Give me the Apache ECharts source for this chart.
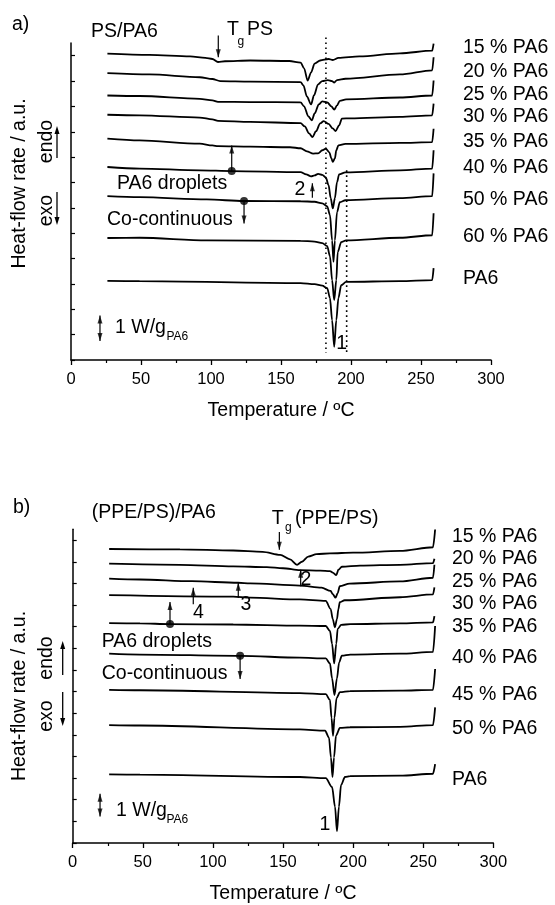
<!DOCTYPE html>
<html><head><meta charset="utf-8">
<script src="https://cdn.jsdelivr.net/npm/echarts@6/dist/echarts.min.js"></script>
<style>html,body{margin:0;padding:0;background:#fff}#c{width:555px;height:905px}</style>
</head><body><div id="c"></div>
<script>
// ---------- data ----------
const xTicks = [0, 50, 100, 150, 200, 250, 300];
const aYTicks = [0,1,2,3,4,5,6,7,8,9,10,11,12];
const bYTicks = [0,1,2,3,4,5,6,7,8,9,10,11,12,13,14];
const aNames = ['15 % PA6','20 % PA6','25 % PA6','30 % PA6','35 % PA6','40 % PA6','50 % PA6','60 % PA6','PA6'];
const bNames = ['15 % PA6','20 % PA6','25 % PA6','30 % PA6','35 % PA6','40 % PA6','45 % PA6','50 % PA6','PA6'];

// panel a) PS/PA6 : [temperature °C, heat flow (a.u., W/g offset)]
const a15 = [[26,12.08],[56,12.03],[85,11.97],[96,11.91],[101,11.87],[105,11.75],[110,11.78],[128,11.81],[156,11.79],[164,11.73],[166.5,11.50],[169,11.02],[171.5,11.34],[174,11.69],[178,11.81],[184,11.87],[187,11.83],[191,11.91],[206,11.97],[235,12.09],[258,12.20],[259,12.48]];
const a20 = [[26,11.31],[56,11.26],[92,11.15],[101,11.08],[106.5,11.0],[128,10.98],[164,10.96],[166,10.83],[168.5,10.39],[171.5,10.08],[173.5,10.43],[176.5,10.87],[179.5,11.0],[183.5,11.04],[186.5,11.0],[188,10.94],[190,11.04],[196,11.09],[235,11.26],[258,11.42],[259,11.94]];
const a25 = [[26,10.43],[49,10.41],[92,10.30],[101,10.24],[105,10.18],[128,10.17],[164,10.16],[166.5,10.0],[169.5,9.61],[172,9.45],[174,9.72],[177,10.08],[179.5,10.20],[183,10.16],[186,10.0],[188,9.87],[190,10.04],[192,10.22],[196.5,10.28],[235,10.35],[258,10.43],[259,11.02]];
const a30 = [[26,9.67],[49,9.65],[92,9.56],[101,9.49],[105,9.43],[128,9.39],[164,9.34],[167,9.21],[170,8.94],[172.5,8.79],[175,9.02],[178,9.33],[180.5,9.42],[184,9.31],[187,9.13],[189,9.03],[191.5,9.25],[193.5,9.52],[199.5,9.53],[235,9.59],[258,9.65],[259,10.11]];
const a35 = [[26,8.73],[49,8.66],[92,8.53],[101,8.46],[105,8.43],[128,8.41],[156.5,8.39],[164,8.35],[168.5,8.23],[173,8.14],[176.5,8.15],[179.5,8.27],[182,8.33],[184.5,8.19],[186,7.95],[187,7.81],[188.5,7.95],[189.5,8.27],[191,8.46],[196,8.52],[235,8.56],[258,8.59],[259,9.12]];
const a40 = [[26,7.61],[49,7.55],[92,7.48],[115,7.45],[164,7.41],[168,7.32],[171.5,7.24],[174,7.28],[176.5,7.34],[179.5,7.30],[182,7.20],[184,6.89],[185.5,6.38],[187,5.98],[188.5,6.38],[190,7.01],[191.5,7.32],[196,7.40],[235,7.48],[258,7.55],[259,8.27]];
const a50 = [[26,6.46],[49,6.42],[97,6.33],[123.5,6.27],[164,6.26],[174,6.24],[179.5,6.18],[183,6.06],[185,5.71],[186.5,4.72],[187.5,3.87],[188.5,4.72],[190,5.83],[192,6.22],[196,6.30],[235,6.38],[258,6.46],[259,7.36]];
const a60 = [[26,4.81],[49,4.82],[97,4.72],[164,4.70],[174,4.67],[179.5,4.61],[183,4.49],[185,4.09],[186.5,3.15],[188,2.36],[189.5,3.15],[190.5,4.25],[193,4.65],[196.5,4.72],[235,4.82],[258,4.92],[259,5.79]];
const aPA6 = [[26,3.12],[49,3.11],[164,3.03],[174,2.99],[179.5,2.93],[183,2.83],[185,2.44],[186.5,1.57],[188,0.52],[189.5,1.57],[191,2.44],[193,2.95],[196.5,3.08],[235,3.11],[258,3.15],[259,3.62]];

// panel b) (PPE/PS)/PA6
const b15 = [[26,13.59],[76.5,13.57],[114.5,13.52],[135.5,13.46],[148,13.32],[155,13.11],[160,12.86],[163.5,13.0],[168,13.24],[174,13.35],[183.5,13.39],[200,13.42],[233.5,13.5],[257,13.67],[258.5,14.49]];
const b20 = [[26,12.91],[76.5,12.86],[114.5,12.79],[138.5,12.75],[150,12.70],[162,12.61],[176.5,12.59],[183.5,12.57],[185.5,12.50],[188,12.38],[189.5,12.63],[192,12.77],[205,12.82],[233.5,12.86],[257,12.94],[258,13.14]];
const b25 = [[26,12.22],[48,12.18],[85,12.10],[118,12.03],[126.5,12.0],[162,11.90],[177.5,11.80],[184,11.65],[185.5,11.50],[187.5,11.34],[189,11.55],[190.5,11.87],[197.5,11.99],[233.5,12.09],[257,12.26],[258,12.86]];
const b30 = [[26,11.46],[114.5,11.39],[126.5,11.34],[162,11.26],[180.5,11.19],[184,10.81],[185.5,10.35],[187,9.97],[188.5,10.35],[189.5,10.81],[190.5,11.13],[194,11.22],[233.5,11.36],[257,11.49],[258,11.81]];
const b35 = [[26,10.16],[48,10.15],[69.5,10.12],[114.5,10.10],[162,10.05],[180.5,10.03],[183.5,9.80],[185,9.21],[186.5,8.30],[188,9.21],[189,9.90],[191.5,10.08],[198,10.12],[233.5,10.15],[257,10.20],[258,10.49]];
const b40 = [[26,8.75],[48,8.71],[119.5,8.65],[162,8.57],[180.5,8.53],[183.5,8.30],[185,7.61],[186.7,6.84],[188.5,7.61],[190,8.34],[192,8.66],[198,8.71],[233.5,8.75],[257,8.83],[258.5,10.03]];
const b45 = [[26,7.08],[48,7.06],[162,6.93],[180.5,6.88],[183.5,6.61],[184.6,5.79],[185.7,4.95],[186.7,5.79],[188.2,6.70],[190.6,6.97],[197.8,7.02],[233.5,7.04],[257,7.08],[258.5,8.04]];
const b50 = [[26,5.45],[48,5.43],[162,5.25],[180,5.19],[182.8,4.87],[184.2,3.96],[185.3,3.05],[186.4,3.96],[187.8,4.96],[190.6,5.32],[197.8,5.35],[233.5,5.37],[257,5.45],[258.5,6.27]];
const bPA6 = [[26,3.17],[48,3.16],[162,3.05],[180.5,3.0],[185,2.59],[187.1,1.68],[188.5,0.54],[189.9,1.68],[191.4,2.68],[194.2,3.05],[197.8,3.09],[233.5,3.11],[257,3.20],[258.5,3.65]];

// annotation arrows: [T, from, to(head)], dots at 'from' when flagged
const aArrows = [[105.2,12.8,11.94],[114.8,7.45,8.46],[123.6,6.27,5.38],[172.4,6.40,6.97]];
const aDots = [[114.8,7.45],[123.6,6.27]];
const aScale = [20.7,0.75,1.75];
const aDotted = [[182.1,12.72,0.28],[196.9,7.48,0.28]];
const bArrows = [[147.4,14.38,13.55],[69.4,10.12,11.14],[119.4,8.65,7.58],[86,11.04,11.80],[118.1,11.34,12.03],[162.6,11.87,12.63]];
const bDots = [[69.4,10.12],[119.4,8.65]];
const bScale = [19.5,1.22,2.28];

// ---------- chart ----------
const F = '"Liberation Sans", Arial, Helvetica, sans-serif';
const chart = echarts.init(document.getElementById('c'), null, {renderer:'canvas'});

function xAxis(gi){
  return {type:'value', gridIndex:gi, min:0, max:300, interval:50,
    axisLine:{onZero:false, lineStyle:{color:'#000', width:1.5}},
    axisTick:{length:5, lineStyle:{color:'#000', width:1.3}},
    minorTick:{show:true, splitNumber:2, length:3, lineStyle:{color:'#000', width:1.2}},
    splitLine:{show:false}, minorSplitLine:{show:false},
    axisLabel:{color:'#000', fontSize:16.5, fontFamily:F, margin:11,
      customValues:xTicks},
    name:'Temperature / ºC', nameLocation:'middle', nameGap:41,
    nameTextStyle:{color:'#000', fontSize:19.5, fontFamily:F}};
}
function yAxis(gi, max, ticks){
  return {type:'value', gridIndex:gi, min:0, max:max,
    axisLine:{show:true, onZero:false, lineStyle:{color:'#000', width:1.5}},
    axisTick:{show:true, inside:true, length:4, customValues:ticks, lineStyle:{color:'#000', width:1.2}},
    axisLabel:{show:false}, splitLine:{show:false}};
}
function curve(d, gi){
  return {type:'line', xAxisIndex:gi, yAxisIndex:gi, data:d, showSymbol:false,
    smooth:0.3, smoothMonotone:'x', lineStyle:{color:'#000', width:1.8}, silent:true};
}
function arrows(list, scale, gi){
  const shaft = [], up = [], down = [];
  list.forEach(([x,y0,y1]) => { shaft.push([x,y0],[x,y1],[x,null]); (y1>y0?up:down).push([x,y1]); });
  shaft.push([scale[0],scale[1]],[scale[0],scale[2]]);
  up.push([scale[0],scale[2]]); down.push([scale[0],scale[1]]);
  const common = {type:'scatter', xAxisIndex:gi, yAxisIndex:gi, symbol:'triangle', symbolSize:[5,8],
    itemStyle:{color:'#000'}, clip:false, silent:true};
  return [
    {type:'line', xAxisIndex:gi, yAxisIndex:gi, data:shaft, showSymbol:false, connectNulls:false,
     lineStyle:{color:'#000', width:1.2}, clip:false, silent:true},
    Object.assign({}, common, {data:up, symbolOffset:[0,4]}),
    Object.assign({}, common, {data:down, symbolRotate:180, symbolOffset:[0,-4]})
  ];
}
function dots(d, gi){
  return {type:'scatter', xAxisIndex:gi, yAxisIndex:gi, data:d, symbol:'circle', symbolSize:8,
    itemStyle:{color:'#000'}, clip:false, silent:true};
}
function dotted(list, gi){
  return list.map(([x,y0,y1]) => ({type:'line', xAxisIndex:gi, yAxisIndex:gi, data:[[x,y0],[x,y1]],
    showSymbol:false, clip:false, silent:true, lineStyle:{color:'#000', width:1.6, type:[1.6,3.4]}}));
}

function txt(s, x, y, size, opts){
  opts = opts || {};
  return {type:'text', x:x, y:y, rotation:opts.rot||0, silent:true,
    style:{text:s, fill:'#000', font: size+'px '+F, align:opts.align||'left', verticalAlign:'middle'}};
}
function vArrow(x, y0, y1){
  const dir = y1 < y0 ? 1 : -1; // head at y1
  return [
    {type:'line', silent:true, shape:{x1:x,y1:y0,x2:x,y2:y1+dir*6}, style:{stroke:'#000', lineWidth:1.3}},
    {type:'polygon', silent:true, shape:{points:[[x,y1],[x-2.5,y1+dir*8],[x+2.5,y1+dir*8]]}, style:{fill:'#000'}}
  ];
}

const aLabY = [48,72,95,117,142,168,200,237,279];
const bLabY = [537,559,582,604,627,658,695,729,780];
const graphics = [];
// panel a texts
graphics.push(txt('a)',12,25,19.5), txt('PS/PA6',91,31.7,19.5),
  txt('T',227,30,19.5), txt('g',237.5,41.5,12), txt('PS',247,30,19.5),
  txt('PA6 droplets',117,183.3,19.5), txt('Co-continuous',107,220,19.5),
  txt('2',300,190,19.5,{align:'center'}), txt('1',341.7,344,19.5,{align:'center'}),
  txt('1 W/g',115,328,19.5), txt('PA6',166.5,337,12),
  txt('Heat-flow rate / a.u.',19.7,183.5,19.5,{rot:Math.PI/2, align:'center'}),
  txt('endo',46.7,141.5,19.5,{rot:Math.PI/2, align:'center'}),
  txt('exo',46.7,210.5,19.5,{rot:Math.PI/2, align:'center'}));
aNames.forEach((n,i)=>graphics.push(txt(n,463,aLabY[i],19.5)));
graphics.push(...vArrow(57,158,126), ...vArrow(57,192,225));
// panel b texts
graphics.push(txt('b)',13,508,19.5), txt('(PPE/PS)/PA6',91.7,513,19.5),
  txt('T',271.7,518.3,19.5), txt('g',285,528,12), txt('(PPE/PS)',295,518.3,19.5),
  txt('PA6 droplets',101.7,641.7,19.5), txt('Co-continuous',101.7,673.3,19.5),
  txt('2',306,580,19.5,{align:'center'}), txt('3',246,605,19.5,{align:'center'}),
  txt('4',198.5,613,19.5,{align:'center'}), txt('1',325,825,19.5,{align:'center'}),
  txt('1 W/g',116,810.7,19.5), txt('PA6',166.5,820,12),
  txt('Heat-flow rate / a.u.',19.7,696,19.5,{rot:Math.PI/2, align:'center'}),
  txt('endo',46.7,658,19.5,{rot:Math.PI/2, align:'center'}),
  txt('exo',46.7,716,19.5,{rot:Math.PI/2, align:'center'}));
bNames.forEach((n,i)=>graphics.push(txt(n,452,bLabY[i],19.5)));
graphics.push(...vArrow(62.7,675,641), ...vArrow(62.7,692,726));

const series = [];
[a15,a20,a25,a30,a35,a40,a50,a60,aPA6].forEach(d=>series.push(curve(d,0)));
[b15,b20,b25,b30,b35,b40,b45,b50,bPA6].forEach(d=>series.push(curve(d,1)));
series.push(...dotted(aDotted,0));
series.push(...arrows(aArrows,aScale,0), dots(aDots,0));
series.push(...arrows(bArrows,bScale,1), dots(bDots,1));

chart.setOption({
  animation:false,
  backgroundColor:'#fff',
  grid:[{left:71, top:43, width:420, height:317},
        {left:72.7, top:529.3, width:420.6, height:317.4}],
  xAxis:[xAxis(0), xAxis(1)],
  yAxis:[yAxis(0,12.5,aYTicks), yAxis(1,14.5,bYTicks)],
  series:series,
  graphic:graphics
});
</script></body></html>
